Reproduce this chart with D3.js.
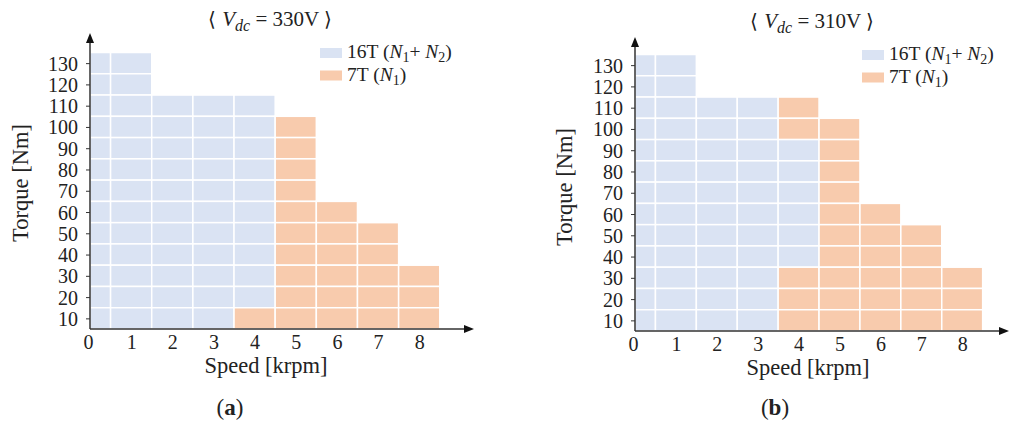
<!DOCTYPE html>
<html>
<head>
<meta charset="utf-8">
<script src="https://cdn.jsdelivr.net/npm/d3@7"></script>
<style>
  body { margin: 0; background: #fff; }
  svg text { font-family: "Liberation Serif", "DejaVu Serif", serif; fill: #222; }
</style>
</head>
<body>
<svg id="chart" width="1009" height="424"></svg>
<script>
// speeds (krpm) for each column, torque (Nm) for each row, top to bottom
const speeds = [0, 1, 2, 3, 4, 5, 6, 7, 8];
const torques = [130, 120, 110, 100, 90, 80, 70, 60, 50, 40, 30, 20, 10];

// operating winding per cell: B = 16T (N1+N2), O = 7T (N1), . = not reachable
const gridA = [
    "BB.......",
    "BB.......",
    "BBBBB....",
    "BBBBBO...",
    "BBBBBO...",
    "BBBBBO...",
    "BBBBBO...",
    "BBBBBOO..",
    "BBBBBOOO.",
    "BBBBBOOO.",
    "BBBBBOOOO",
    "BBBBBOOOO",
    "BBBBOOOOO"
];
const gridB = [
    "BB.......",
    "BB.......",
    "BBBBO....",
    "BBBBOO...",
    "BBBBBO...",
    "BBBBBO...",
    "BBBBBO...",
    "BBBBBOO..",
    "BBBBBOOO.",
    "BBBBBOOO.",
    "BBBBOOOOO",
    "BBBBOOOOO",
    "BBBBOOOOO"
];

const modes = ['B', 'O'];
const modeColor = d3.scaleOrdinal().domain(modes).range(['#dae3f3', '#f8cbad']);

class MapPanel {
    constructor(_config, _grid) {
        this.config = _config;
        this.grid = _grid;
        this.initVis();
    }

    initVis() {
        let vis = this;
        const c = vis.config;
        const svg = d3.select('#chart');
        vis.g = svg.append('g');

        vis.xScale = d3.scaleLinear().domain([0, 1]).range([c.originX, c.originX + c.unitX]);
        vis.yScale = d3.scaleLinear().domain([5, 135]).range([c.originY, c.topY]);

        // cells: each speed column spans +-0.5 krpm, clipped at 0
        const cells = [];
        vis.grid.forEach((row, ri) => {
            speeds.forEach((s, si) => {
                const m = row[si];
                if (m !== '.') cells.push({speed: s, torque: torques[ri], mode: m});
            });
        });

        vis.g.selectAll('.cell')
            .data(cells)
            .join('rect')
            .attr('class', 'cell')
            .attr('x', d => vis.xScale(Math.max(0, d.speed - 0.5)))
            .attr('y', d => vis.yScale(d.torque + 5))
            .attr('width', d => vis.xScale(d.speed + 0.5) - vis.xScale(Math.max(0, d.speed - 0.5)))
            .attr('height', d => vis.yScale(d.torque - 5) - vis.yScale(d.torque + 5))
            .attr('fill', d => modeColor(d.mode))
            .attr('stroke', '#fff')
            .attr('stroke-width', 1.5);

        // axes
        const yAxis = d3.axisLeft(vis.yScale)
            .tickValues(torques)
            .tickSize(4)
            .tickPadding(8);
        const yAxisG = vis.g.append('g')
            .attr('transform', `translate(${c.originX},0)`)
            .call(yAxis);
        yAxisG.select('.domain').remove();
        yAxisG.selectAll('line').attr('stroke', '#333');
        yAxisG.selectAll('text')
            .style('font-size', '20px')
            .attr('dy', '0.35em');

        const xAxis = d3.axisBottom(vis.xScale)
            .tickValues(speeds)
            .tickSize(0)
            .tickPadding(6)
            .tickFormat(d3.format('d'));
        const xAxisG = vis.g.append('g')
            .attr('transform', `translate(0,${c.originY})`)
            .call(xAxis);
        xAxisG.select('.domain').remove();
        xAxisG.selectAll('text')
            .style('font-size', '20px')
            .attr('dx', d => d === 0 ? -2 : 0);

        // axis lines with arrow heads
        vis.g.append('line')
            .attr('x1', c.originX).attr('y1', c.originY)
            .attr('x2', c.originX).attr('y2', c.arrowTop + 6)
            .attr('stroke', '#333').attr('stroke-width', 1.5);
        vis.g.append('path')
            .attr('d', `M${c.originX - 4},${c.arrowTop + 10}L${c.originX},${c.arrowTop}L${c.originX + 4},${c.arrowTop + 10}Z`)
            .attr('fill', '#111');
        vis.g.append('line')
            .attr('x1', c.originX).attr('y1', c.originY)
            .attr('x2', c.arrowRight - 6).attr('y2', c.originY)
            .attr('stroke', '#333').attr('stroke-width', 1.5);
        vis.g.append('path')
            .attr('d', `M${c.arrowRight - 10},${c.originY - 4}L${c.arrowRight},${c.originY}L${c.arrowRight - 10},${c.originY + 4}Z`)
            .attr('fill', '#111');

        // axis titles
        vis.g.append('text')
            .attr('x', c.xTitle[0]).attr('y', c.xTitle[1])
            .attr('text-anchor', 'middle')
            .style('font-size', '22.5px')
            .text('Speed [krpm]');
        vis.g.append('text')
            .attr('transform', `translate(${c.yTitle[0]},${c.yTitle[1]}) rotate(-90)`)
            .attr('text-anchor', 'middle')
            .style('font-size', '22.5px')
            .text('Torque [Nm]');

        // title  ⟨ V_dc = 330V ⟩
        const title = vis.g.append('text')
            .attr('x', c.title[0]).attr('y', c.title[1])
            .attr('text-anchor', 'middle')
            .style('font-size', '21px');
        title.append('tspan').style('font-family', '"DejaVu Serif", serif').style('font-size', '20px').text('\u27E8 ');
        title.append('tspan').attr('font-style', 'italic').text('V');
        title.append('tspan').attr('font-style', 'italic').style('font-size', '16px').attr('dy', 5).text('dc');
        title.append('tspan').attr('dy', -5).text(` = ${c.voltage}V `);
        title.append('tspan').style('font-family', '"DejaVu Serif", serif').style('font-size', '20px').text('\u27E9');

        // legend
        const legendLabels = [
            [{t: '16T ('}, {t: 'N', i: true}, {t: '1', s: true}, {t: '+ '}, {t: 'N', i: true}, {t: '2', s: true}, {t: ')'}],
            [{t: '7T ('}, {t: 'N', i: true}, {t: '1', s: true}, {t: ')'}]
        ];
        const legend = vis.g.append('g')
            .attr('transform', `translate(${c.legend[0]},${c.legend[1]})`);
        const items = legend.selectAll('.legend-item')
            .data(modes)
            .join('g')
            .attr('class', 'legend-item')
            .attr('transform', (d, i) => `translate(0,${i * 22.5})`);
        items.append('rect')
            .attr('width', 22).attr('height', 10)
            .attr('fill', d => modeColor(d));
        items.append('text')
            .attr('x', 27).attr('y', 10)
            .style('font-size', '19.5px')
            .each(function (d, i) {
                const t = d3.select(this);
                let shifted = false;
                legendLabels[i].forEach(p => {
                    const ts = t.append('tspan').text(p.t);
                    if (p.i) ts.attr('font-style', 'italic');
                    if (p.s) { ts.style('font-size', '14px').attr('dy', 4); shifted = true; }
                    else if (shifted) { ts.attr('dy', -4); shifted = false; }
                });
            });

        // sub caption (a) / (b)
        const cap = vis.g.append('text')
            .attr('x', c.caption[0]).attr('y', c.caption[1])
            .attr('text-anchor', 'middle')
            .style('font-size', '23px');
        cap.append('tspan').text('(');
        cap.append('tspan').attr('font-weight', 'bold').text(c.letter);
        cap.append('tspan').text(')');
    }
}

new MapPanel({
    originX: 90, originY: 329, unitX: 41.15, topY: 52.5,
    arrowTop: 33, arrowRight: 474,
    xTitle: [266, 373], yTitle: [28, 183],
    title: [270, 26], voltage: 330,
    legend: [320, 48], caption: [230, 415], letter: 'a'
}, gridA);

new MapPanel({
    originX: 635, originY: 331, unitX: 40.9, topY: 54.5,
    arrowTop: 37, arrowRight: 1009,
    xTitle: [808, 375], yTitle: [572, 187],
    title: [812, 28], voltage: 310,
    legend: [862, 50], caption: [775, 415], letter: 'b'
}, gridB);
</script>
</body>
</html>
